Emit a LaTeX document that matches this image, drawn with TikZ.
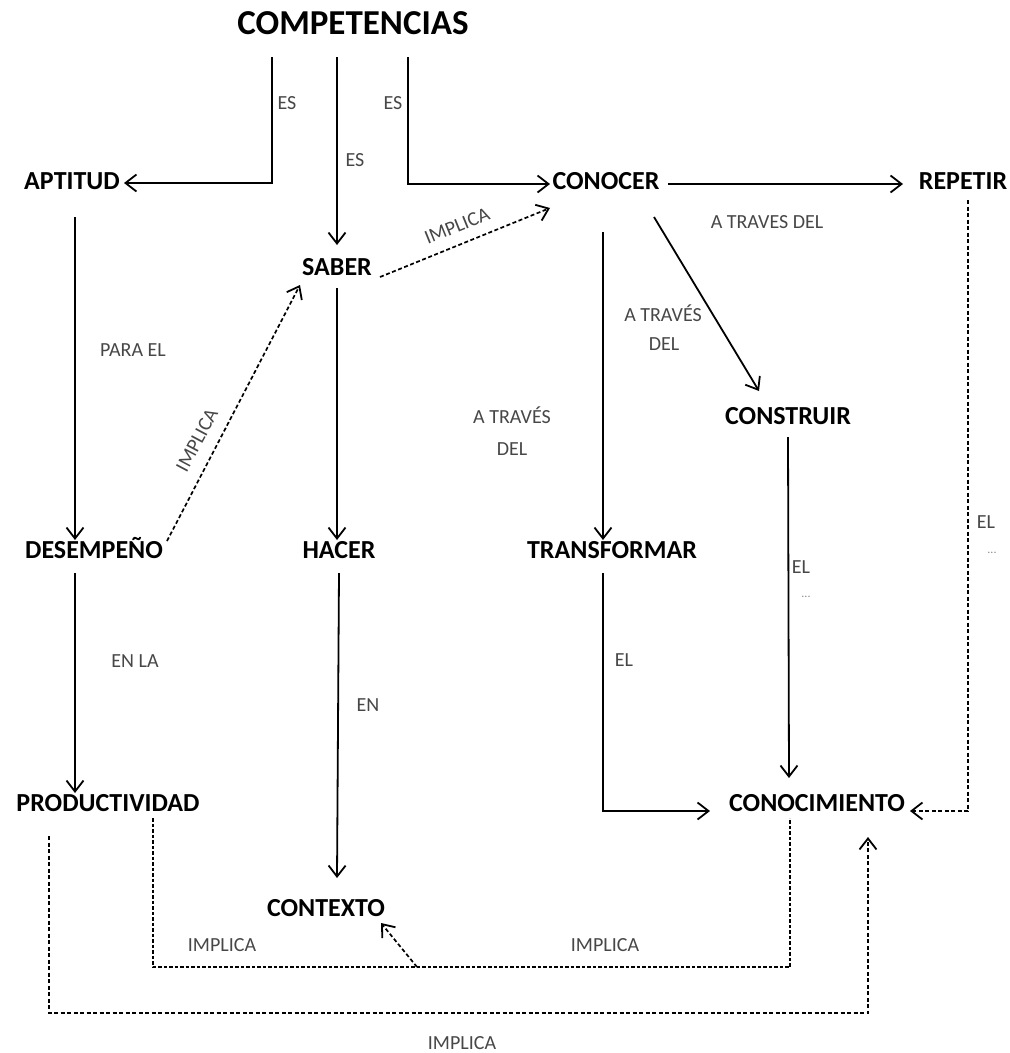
\documentclass[tikz,border=0pt]{standalone}
\usepackage{fontspec}
\setmainfont{Carlito}
\usetikzlibrary{arrows.meta,calc}
\begin{document}
\begin{tikzpicture}[x=1pt,y=-1pt,
  title/.style={font=\fontsize{35}{40}\selectfont\bfseries, inner sep=0pt, text height=0.65em, text depth=0pt},
  concept/.style={font=\fontsize{26}{30}\selectfont\bfseries, inner sep=0pt, text height=0.65em, text depth=0pt},
  lbl/.style={font=\fontsize{20}{24}\selectfont, text=black!72, inner sep=0pt},
  dots/.style={font=\fontsize{12}{14}\selectfont, text=black!45, inner sep=0pt},
  tip/.tip={Straight Barb[length=11pt,width=17pt,line width=1.8pt]},
  link/.style={line width=1.8pt, -tip},
  dlink/.style={line width=1.7pt, dash pattern=on 4pt off 2.5pt, -tip},
  dline/.style={line width=1.7pt, dash pattern=on 3.5pt off 2pt}
]
\path[use as bounding box, fill=white] (0,0) rectangle (1010,1053);

% concepts
\node[title]   (comp)    at (353,31)  {COMPETENCIAS};
\node[concept] (apt)     at (72,186)  {APTITUD};
\node[concept] (conocer) at (606,186) {CONOCER};
\node[concept] (rep)     at (963,186) {REPETIR};
\node[concept] (saber)   at (337,272) {SABER};
\node[concept] (constr)  at (788,421) {CONSTRUIR};
\node[concept] (desemp)  at (94,555)  {DESEMPEÑO};
\node[concept] (hacer)   at (339,555) {HACER};
\node[concept] (transf)  at (612,555) {TRANSFORMAR};
\node[concept] (prod)    at (108,808) {PRODUCTIVIDAD};
\node[concept] (conoc)   at (817,808) {CONOCIMIENTO};
\node[concept] (contx)   at (326,913) {CONTEXTO};

% solid links
\draw[link] ($(comp)+(-81,26)$) |- ($(apt)+(52,-3)$);
\draw[link] ($(comp)+(-16,26)$) -- ($(saber)+(0,-27)$);
\draw[link] ($(comp)+(55,26)$) |- ($(conocer)+(-56,-2)$);
\draw[link] ($(conocer)+(62,-2)$) -- ($(rep)+(-60,-2)$);
\draw[link] ($(apt)+(3,31)$) -- ($(desemp)+(-19,-15)$);
\draw[link] ($(saber)+(0,16)$) -- ($(hacer)+(-2,-15)$);
\draw[link] ($(conocer)+(-3,46)$) -- ($(transf)+(-9,-15)$);
\draw[link] ($(conocer)+(48,31)$) -- ($(constr)+(-29,-30)$);
\draw[link] ($(desemp)+(-19,18)$) -- ($(prod)+(-33,-15)$);
\draw[link] ($(hacer)+(0,18)$) -- ($(contx)+(11,-35)$);
\draw[link] ($(transf)+(-9,18)$) |- ($(conoc)+(-107,3)$);
\draw[link] ($(constr)+(0,16)$) -- ($(conoc)+(-28,-30)$);

% dashed links
\draw[dlink] ($(saber)+(43,5)$) -- ($(conocer)+(-56,22)$);
\draw[dlink] ($(desemp)+(73,-14)$) -- ($(saber)+(-37,13)$);
\draw[dlink] ($(rep)+(5,14)$) |- ($(conoc)+(93,3)$);
\draw[dline] ($(prod)+(45,10)$) -- ($(prod)+(45,159)$) -| ($(conoc)+(-27,10)$);
\coordinate (fork) at (417,967);
\draw[dlink] (fork) -- ($(contx)+(55,10)$);
\draw[dlink] ($(prod)+(-59,28)$) -- ($(prod)+(-59,205)$) -| ($(conoc)+(51,29)$);

% link labels
\node[lbl] (es1) at (287,103) {ES};
\node[lbl] (es2) at (355,160) {ES};
\node[lbl] (es3) at (393,103) {ES};
\node[lbl, rotate=22] (imp1) at (457,226) {IMPLICA};
\node[lbl, rotate=62] (imp2) at (197,440) {IMPLICA};
\node[lbl] (para) at (133,350) {PARA EL};
\node[lbl] (atr1) at (767,222) {A TRAVES DEL};
\node[lbl] (atr2) at (663,313) {A TRAVÉS};
\node[lbl] (del2) at (664,344) {DEL};
\node[lbl] (atr3) at (512,415) {A TRAVÉS};
\node[lbl] (del3) at (512,449) {DEL};
\node[lbl] (enla) at (135,661) {EN LA};
\node[lbl] (en)   at (368,705) {EN};
\node[lbl] (el1)  at (624,660) {EL};
\node[lbl] (el2)  at (801,567) {EL};
\node[dots] (d2)  at (806,597) {...};
\node[lbl] (el3)  at (986,522) {EL};
\node[dots] (d3)  at (992,553) {...};
\node[lbl] (imp3) at (222,945) {IMPLICA};
\node[lbl] (imp4) at (605,945) {IMPLICA};
\node[lbl] (imp5) at (462,1043) {IMPLICA};
\end{tikzpicture}
\end{document}
